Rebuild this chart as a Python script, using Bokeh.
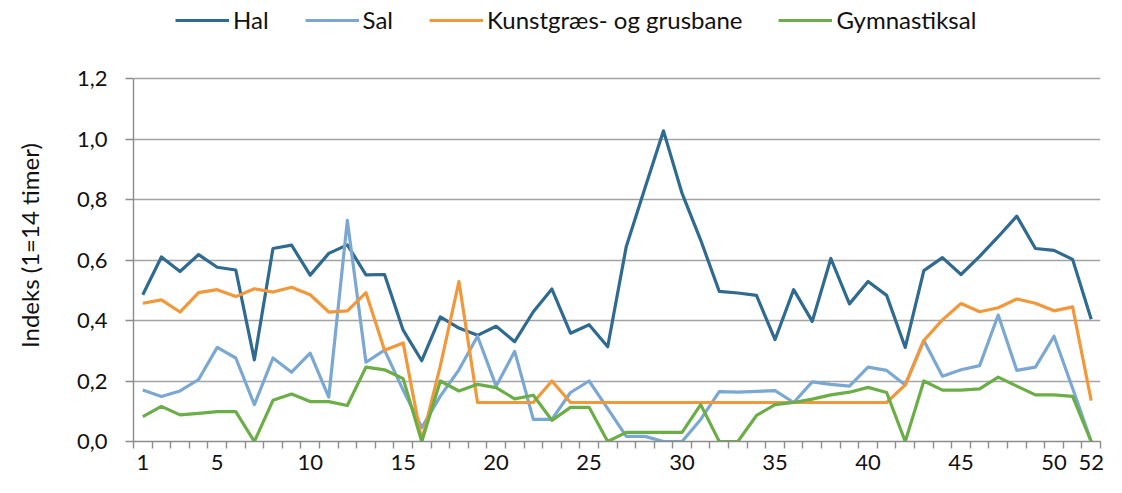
from bokeh.plotting import figure
from bokeh.models import (Range1d, FixedTicker, CustomJSTickFormatter, Legend, LegendItem)
from bokeh.embed import file_html
from bokeh.resources import INLINE

weeks = list(range(1, 53))
x_tick_labels = [1, 5, 10, 15, 20, 25, 30, 35, 40, 45, 50, 52]
y_ticks = [0.0, 0.2, 0.4, 0.6, 0.8, 1.0, 1.2]

hal = [0.485, 0.610, 0.562, 0.618, 0.576, 0.567, 0.270, 0.638, 0.649, 0.550,
       0.622, 0.650, 0.551, 0.552, 0.368, 0.267, 0.412, 0.375, 0.351, 0.381,
       0.330, 0.429, 0.504, 0.358, 0.386, 0.313, 0.645, 0.837, 1.027, 0.820,
       0.666, 0.496, 0.491, 0.483, 0.337, 0.502, 0.397, 0.605, 0.455, 0.529,
       0.483, 0.311, 0.565, 0.608, 0.552, 0.612, 0.677, 0.745, 0.638, 0.632,
       0.602, 0.404]
sal = [0.170, 0.149, 0.167, 0.205, 0.311, 0.276, 0.122, 0.276, 0.229, 0.292,
       0.147, 0.731, 0.262, 0.302, 0.170, 0.046, 0.150, 0.237, 0.348, 0.183,
       0.298, 0.073, 0.073, 0.162, 0.200, 0.109, 0.017, 0.017, 0.000, 0.000,
       0.073, 0.165, 0.163, 0.166, 0.168, 0.129, 0.197, 0.189, 0.183, 0.246,
       0.235, 0.187, 0.334, 0.216, 0.237, 0.251, 0.418, 0.235, 0.246, 0.348,
       0.176, 0.000]
kunst = [0.457, 0.468, 0.428, 0.492, 0.502, 0.479, 0.505, 0.494, 0.510, 0.485,
         0.428, 0.432, 0.492, 0.302, 0.326, 0.003, 0.250, 0.529, 0.129, 0.129,
         0.129, 0.129, 0.200, 0.129, 0.129, 0.129, 0.129, 0.129, 0.129, 0.129,
         0.129, 0.129, 0.129, 0.129, 0.129, 0.129, 0.129, 0.129, 0.129, 0.129,
         0.129, 0.187, 0.334, 0.402, 0.456, 0.429, 0.442, 0.471, 0.457, 0.432,
         0.445, 0.135]
gym = [0.082, 0.116, 0.088, 0.093, 0.099, 0.099, 0.000, 0.136, 0.157, 0.132,
       0.132, 0.119, 0.246, 0.237, 0.208, 0.000, 0.200, 0.167, 0.189, 0.178,
       0.141, 0.153, 0.070, 0.113, 0.113, 0.000, 0.030, 0.030, 0.030, 0.030,
       0.122, 0.000, 0.000, 0.086, 0.122, 0.129, 0.140, 0.154, 0.163, 0.179,
       0.162, 0.000, 0.200, 0.170, 0.170, 0.174, 0.213, 0.183, 0.154, 0.154,
       0.149, 0.000]

series_names = ["Hal", "Sal", "Kunstgræs- og grusbane", "Gymnastiksal"]
series_values = [hal, sal, kunst, gym]
series_colors = ["#2F6A90", "#7BA8D3", "#F2973A", "#6BAE47"]
y_label = "Indeks (1=14 timer)"

FONT = "Lato"
W, H = 1106, 477
ML, MR, MT, MB = 133, 6, 0, 36
PLOT_TOP_PX = 78            # screen y of the 1,2 gridline
frame_bottom = H - MB
y_max_view = 1.2 * frame_bottom / (frame_bottom - PLOT_TOP_PX)

p = figure(width=W, height=H, output_backend="svg", toolbar_location=None,
           x_range=Range1d(0.5, 52.5), y_range=Range1d(0, y_max_view),
           min_border_left=ML, min_border_right=MR, min_border_top=MT,
           min_border_bottom=MB)
p.outline_line_color = None
p.background_fill_color = "white"
p.xgrid.grid_line_color = None
p.ygrid.grid_line_color = "#A3A3A3"
p.ygrid.grid_line_width = 1.4
p.ygrid.ticker = FixedTicker(ticks=y_ticks)

# x axis
p.xaxis.ticker = FixedTicker(ticks=x_tick_labels,
                             minor_ticks=[w + 0.5 for w in range(0, 53)])
p.xaxis.major_tick_out = 0
p.xaxis.major_tick_in = 0
p.xaxis.minor_tick_out = 7
p.xaxis.minor_tick_in = 0
p.xaxis.minor_tick_line_color = "#8C8C8C"
p.xaxis.minor_tick_line_width = 1.4
p.xaxis.axis_line_color = "#8C8C8C"
p.xaxis.axis_line_width = 1.4
p.xaxis.major_label_standoff = 6
p.xaxis.major_label_text_font = FONT
p.xaxis.major_label_text_font_size = "22px"
p.xaxis.major_label_text_color = "#111111"

# y axis
p.yaxis.ticker = FixedTicker(ticks=y_ticks)
p.yaxis.bounds = (0, 1.2)
p.yaxis.formatter = CustomJSTickFormatter(code="return tick.toFixed(1).replace('.', ',');")
p.yaxis.major_tick_out = 8
p.yaxis.major_tick_in = 0
p.yaxis.minor_tick_out = 0
p.yaxis.minor_tick_in = 0
p.yaxis.major_tick_line_color = "#8C8C8C"
p.yaxis.major_tick_line_width = 1.4
p.yaxis.axis_line_color = "#8C8C8C"
p.yaxis.axis_line_width = 1.4
p.yaxis.major_label_standoff = 18
p.yaxis.major_label_text_font = FONT
p.yaxis.major_label_text_font_size = "22px"
p.yaxis.major_label_text_color = "#111111"
p.yaxis.axis_label = y_label + "\u00a0" * 8
p.yaxis.axis_label_text_font = FONT
p.yaxis.axis_label_text_font_size = "24px"
p.yaxis.axis_label_text_font_style = "normal"
p.yaxis.axis_label_text_color = "#111111"
p.yaxis.axis_label_standoff = 30

renderers = []
for name, vals, col in zip(series_names, series_values, series_colors):
    r = p.line(weeks, vals, line_color=col, line_width=3.2, line_join="round")
    renderers.append(r)

LEG_H = 24
legend = Legend(items=[LegendItem(label=n, renderers=[r]) for n, r in zip(series_names, renderers)],
                location=(42, frame_bottom - 22 - LEG_H // 2), orientation="horizontal",
                padding=0, margin=0, spacing=36, glyph_width=54, glyph_height=LEG_H,
                label_standoff=4, border_line_alpha=0, background_fill_alpha=0,
                label_text_font=FONT, label_text_font_size="24px",
                label_text_color="#111111", label_height=LEG_H)
p.add_layout(legend)

open("out.html", "w").write(file_html(p, INLINE))
